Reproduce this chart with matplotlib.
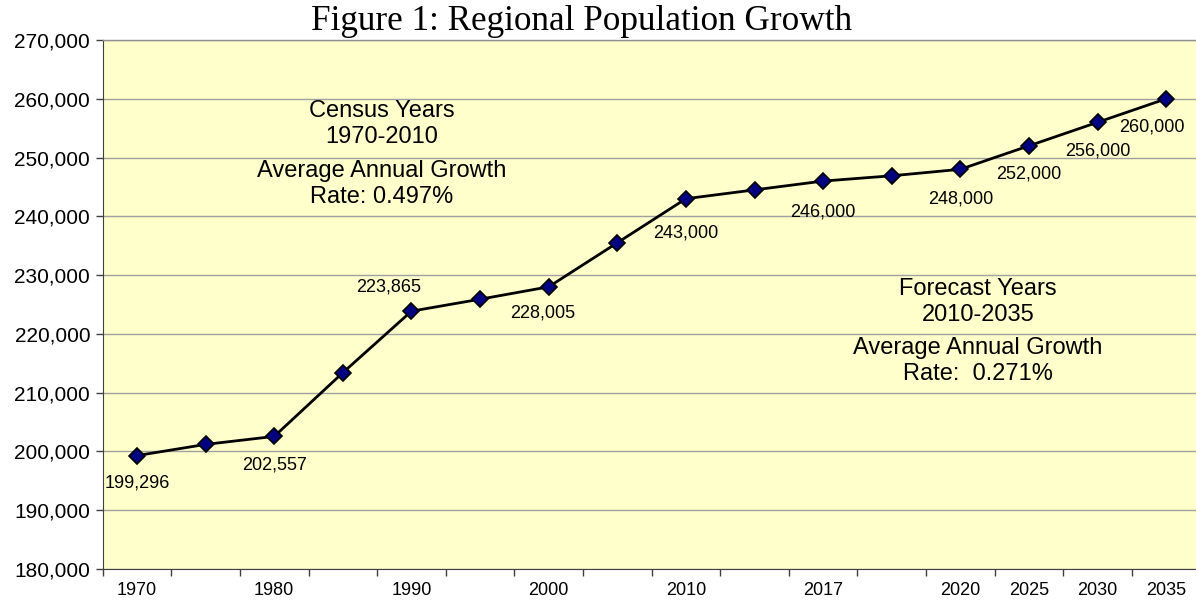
import matplotlib
matplotlib.use("Agg")
import matplotlib.pyplot as plt
import numpy as np
from matplotlib.ticker import FuncFormatter, FixedLocator

# ---- data ----
tick_labels = ['1970', '', '1980', '', '1990', '', '2000', '', '2010', '', '2017', '',
               '2020', '2025', '2030', '2035']
population = [199296, 201200, 202557, 213400, 223865, 225900, 228005, 235500,
              243000, 244500, 246000, 246900, 248000, 252000, 256000, 260000]
label_flags = [True, False, True, False, True, False, True, False,
               True, False, True, False, True, True, True, True]
title = "Figure 1: Regional Population Growth"
note_census = ["Census Years\n1970-2010", "Average Annual Growth\nRate: 0.497%"]
note_forecast = ["Forecast Years\n2010-2035", "Average Annual Growth\nRate:  0.271%"]

# label offsets in pixels (style only)
label_offsets = {0: (0, -27), 2: (0, -29), 4: (-23, 24), 6: (-6, -26), 8: (0, -34),
                 10: (0, -31), 12: (0, -30), 13: (0, -28), 14: (0, -29), 15: (-14, -28)}

sans = ['Liberation Sans', 'DejaVu Sans']
serif = ['Liberation Serif', 'DejaVu Serif']

fig = plt.figure(figsize=(11.96, 6.02), dpi=100)
fig.patch.set_facecolor('white')
W, H = 1196, 602
left_px, right_px, top_px, bottom_px = 102.7, 1200.5, 40, 569
ax = fig.add_axes([left_px / W, 1 - bottom_px / H, (right_px - left_px) / W, (bottom_px - top_px) / H])
ax.set_facecolor('#FFFFCC')

x = np.arange(len(population))
ax.plot(x, population, color='black', lw=2, zorder=3,
        marker='D', markersize=8, markerfacecolor='#000080',
        markeredgecolor='black', markeredgewidth=1.2)

ax.set_xlim(-0.5, len(population) - 0.5)
ax.set_ylim(180000, 270000)
ax.set_yticks(np.arange(180000, 270001, 10000))
ax.yaxis.set_major_formatter(FuncFormatter(lambda v, p: f"{int(v):,}"))
ax.grid(axis='y', color='#A0A0A0', lw=1, zorder=1)
ax.set_axisbelow(True)

# category boundary ticks, labels at centers
ax.xaxis.set_major_locator(FixedLocator(np.arange(-0.5, len(population), 1.0)))
ax.xaxis.set_major_formatter(FuncFormatter(lambda v, p: ''))
ax.set_xticks(x, minor=True)
ax.set_xticklabels(tick_labels, minor=True)
ax.tick_params(axis='x', which='major', direction='out', length=5, width=1, color='#404040')
ax.tick_params(axis='x', which='minor', length=0, pad=9.5, labelsize=13)
ax.tick_params(axis='y', direction='out', length=5, width=1, color='#404040', labelsize=15, pad=4)
for lab in ax.get_xticklabels(minor=True) + ax.get_yticklabels():
    lab.set_fontfamily(sans)

for side in ['top', 'right']:
    ax.spines[side].set_color('#909090')
    ax.spines[side].set_linewidth(1)
ax.spines['left'].set_color('#404040')
ax.spines['bottom'].set_color('#404040')

for i, v in enumerate(population):
    if label_flags[i]:
        dx, dy = label_offsets[i]
        ax.annotate(f"{v:,}", (x[i], v), xytext=(dx, dy), textcoords='offset pixels',
                    ha='center', va='center', fontsize=13, family=sans, zorder=4)

# text notes
for txt, (px, py) in zip(note_census + note_forecast,
                         [(382, 124), (382, 184), (978, 302), (978, 361)]):
    fig.text(px / W, 1 - py / H, txt, ha='center', va='center', fontsize=17,
             family=sans, linespacing=1.18)

fig.text(582 / W, 1 - 21 / H, title, ha='center', va='center', fontsize=25.3, family=serif)

fig.savefig('out.png', dpi=100)
